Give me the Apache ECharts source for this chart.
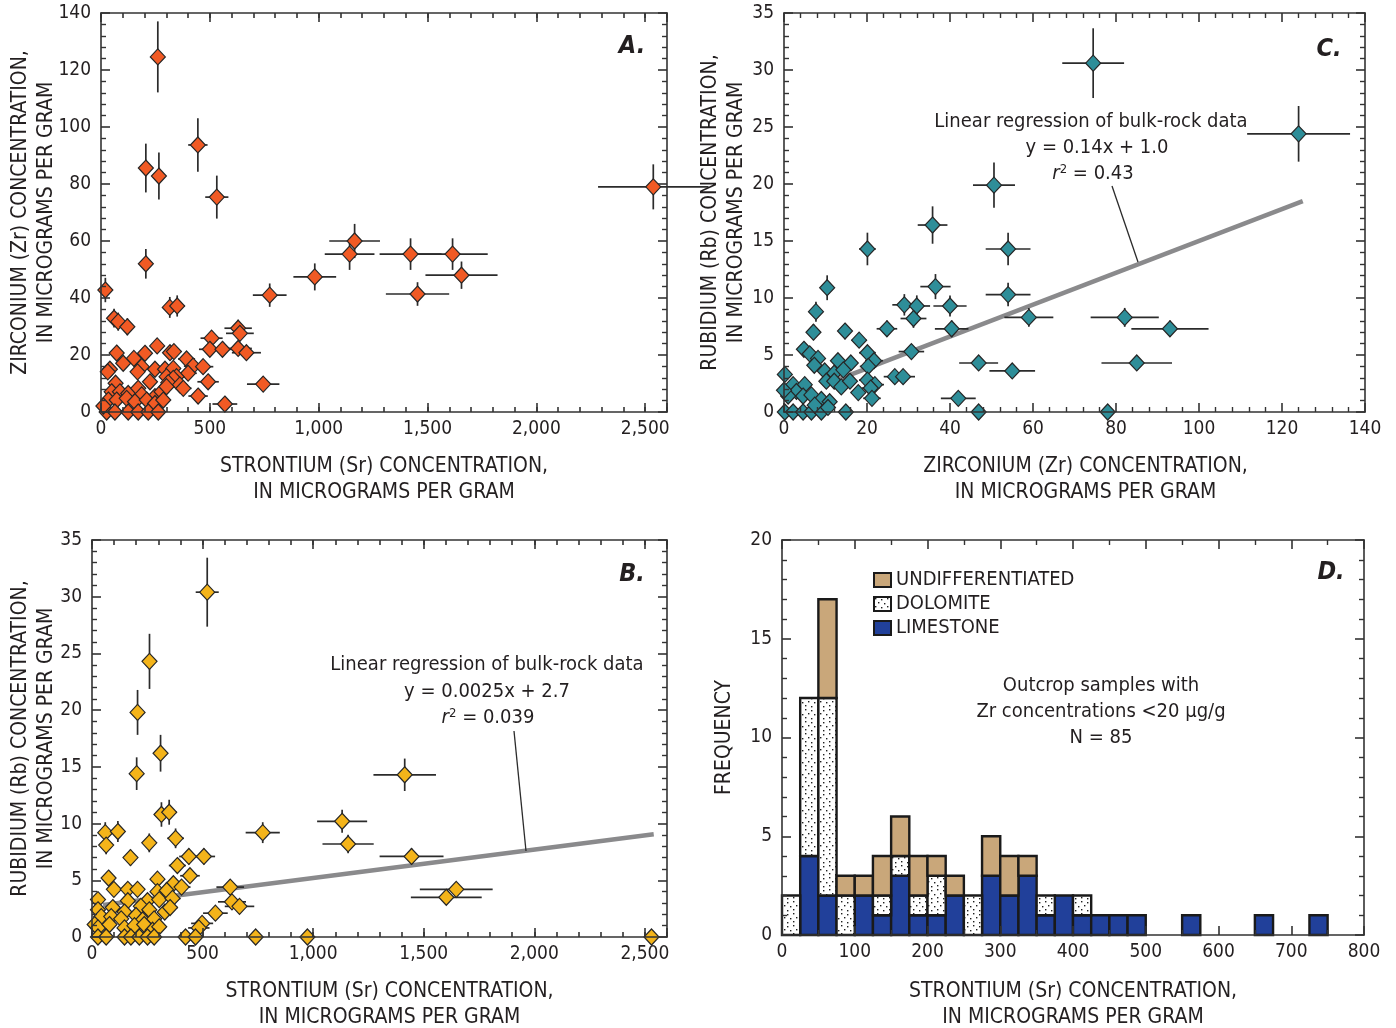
<!DOCTYPE html>
<html><head><meta charset="utf-8">
<script src="https://cdn.jsdelivr.net/npm/echarts@6/dist/echarts.min.js"></script>
<style>html,body{margin:0;padding:0;background:#fff}#c{width:1396px;height:1028px}</style>
</head><body><div id="c"></div>
<script>
// ---------------- DATA ----------------
// Panel A: Sr (x) vs Zr (y)
const aSr = [261,445,206,266,532,2537,206,1165,1142,982,1422,1615,1656,1454,775,20,316,350,60,79,121,630,638,508,258,72,202,317,335,500,558,630,668,151,102,187,168,248,294,332,393,423,469,41,31,400,301,347,332,225,309,362,378,492,745,67,49,87,125,171,187,248,278,301,446,569,34,72,118,156,210,248,286,26,64,125,171,217,263,11];
const aZr = [124.6,93.7,85.6,82.8,75.4,79,52,60,55.4,47.4,55.4,55.4,48,41.4,41,42.8,36.7,37.2,32.9,31.7,29.9,29.4,27.6,25.9,23.2,20.7,20.6,20.8,21.2,22,22,22.3,20.8,18.8,17.1,15.9,14.1,15,15,15.3,18.6,16.1,15.9,15,14.1,13.6,12.4,12.4,11.8,10.6,10.3,9.5,8.3,10.6,9.8,10.1,7.1,7.1,6.5,8.3,6.0,5.4,7.1,8.9,5.6,2.8,4.2,4.2,4.8,3.6,4.2,3.0,4.2,0,0,0,0,0,0,2.1];
// Panel B: Sr (x) vs Rb (y)
const bSr = [521,260,206,310,202,1414,314,349,1131,1158,772,1445,1647,1602,974,740,2530,60,117,64,259,378,174,438,506,386,443,75,296,368,625,99,162,206,296,338,405,27,162,251,304,364,633,667,27,94,147,221,259,329,353,558,42,87,132,199,229,281,498,483,12,27,79,147,192,236,274,304,27,64,147,176,214,251,281,423,468];
const bRb = [30.4,24.3,19.8,16.2,14.4,14.3,10.8,11.0,10.2,8.2,9.2,7.1,4.2,3.5,0,0,0,9.2,9.3,8.1,8.3,8.7,7.0,7.1,7.1,6.3,5.4,5.2,5.1,4.7,4.4,4.2,4.2,4.2,4.0,4.1,4.4,3.3,3.2,3.2,3.3,3.4,3.1,2.7,2.4,2.6,2.2,2.7,2.4,2.2,2.6,2.1,1.8,1.8,1.6,1.9,1.5,1.6,1.2,0.8,1.1,0.8,1.1,0.8,1.0,1.1,0.6,0.9,0,0,0,0,0,0,0,0,0];
// Panel C: Zr (x) vs Rb (y)
const cZr = [74.5,124,50.6,35.8,20.1,54,10.4,36.5,54,7.7,29,32,40,31.2,59,7.1,14.7,24.8,40.4,18.1,82.1,93,85,78,55,46.9,42,46.9,30.7,4.8,6.2,8.2,13,16.1,20.1,21.7,7.3,9.8,12.1,14.3,20.3,0.2,10.2,12.1,13.8,15.9,20.1,21.9,20.9,26.7,28.7,17.9,21.2,2.2,5.0,3.0,4.6,6.6,9.0,11.0,1.0,0,0.2,2.2,4.6,6.6,9.0,14.9,7.4,10.6];
const cRb = [30.6,24.4,19.9,16.4,14.3,14.3,10.9,11.0,10.3,8.8,9.4,9.3,9.3,8.2,8.3,7.0,7.1,7.3,7.3,6.3,8.3,7.3,4.3,0,3.6,4.3,1.2,0,5.3,5.5,5.1,4.7,4.5,4.3,5.2,4.5,4.1,3.6,3.4,3.7,4.0,3.3,2.7,2.7,2.2,2.7,2.8,2.4,2.1,3.1,3.1,1.7,1.2,2.4,2.4,1.8,1.4,1.5,1.1,0.9,1.4,1.9,0,0,0,0,0,0,0.6,0.4];
// Regression lines (endpoints)
const bRegX = [50, 2540];
const bRegY = [2.83, 9.05];
const cRegX = [12, 125];
const cRegY = [2.7, 18.5];
// Panel D: histogram of Sr, bins of 25
const binStarts = [0,25,50,75,100,125,150,175,200,225,250,275,300,325,350,375,400,425,450,475,500,525,550,575,600,625,650,675,700,725];
const BIN_WIDTH = 25;
const limestone = [0,4,2,0,2,1,3,1,1,2,0,3,2,3,1,2,1,1,1,1,0,0,1,0,0,0,1,0,0,1];
const dolomite  = [2,8,10,2,0,1,1,1,2,0,2,0,0,0,1,0,1,0,0,0,0,0,0,0,0,0,0,0,0,0];
const undiff    = [0,0,5,1,1,2,2,2,1,1,0,2,2,1,0,0,0,0,0,0,0,0,0,0,0,0,0,0,0,0];
const REL_ERR = 0.10; // analytical uncertainty drawn as +/-10% (not drawn for non-detects)

// ---------------- STYLE ----------------
const FONT = "'Liberation Sans Narrow','DejaVu Sans Condensed','Arial Narrow',sans-serif";
const AX = '#333';
const TXT = '#231f20';
const COL_A = '#f15a24', COL_B = '#f4b41a', COL_C = '#2e8e99';
const COL_TAN = '#c9a77a', COL_BLUE = '#21409a';

function comma(v){ return String(v).replace(/\B(?=(\d{3})+(?!\d))/g, ','); }

function axis(o){
  return {
    type:'value', gridIndex:o.grid, position:o.pos, min:o.min, max:o.max, interval:o.interval,
    axisLine:{show:o.line!==false, onZero:false, lineStyle:{color:AX,width:1.6}},
    axisTick:{show:true, inside:true, length:o.tickLen||9, lineStyle:{color:AX,width:1.6}},
    minorTick:{show:!!o.minor, splitNumber:o.minor||5, length:5, lineStyle:{color:AX,width:1.4}},
    splitLine:{show:false}, minorSplitLine:{show:false},
    axisLabel:{show:!!o.label, margin:o.margin||8, color:TXT, fontSize:19, fontFamily:FONT, formatter:o.fmt},
    name:o.name||'', nameLocation:'middle', nameGap:o.nameGap||30, nameMoveOverlap:false,
    nameTextStyle:{color:TXT, fontSize:21, lineHeight:26, fontFamily:FONT, padding:o.namePad||0},
    silent:true, z:10
  };
}
const xAxes=[], yAxes=[];
function addX(o){ xAxes.push(axis(o)); return xAxes.length-1; }
function addY(o){ yAxes.push(axis(o)); return yAxes.length-1; }

const grids = [
  {left:101, top:13, width:566, height:399},   // A
  {left:784, top:13, width:581, height:399},   // C
  {left:92,  top:540, width:575, height:397},  // B
  {left:782, top:540, width:582, height:395}   // D
].map(g=>Object.assign(g,{containLabel:false, outerBoundsMode:'none'}));

const srFmt = v => (v % 500 === 0 ? comma(v) : '');
const YNAME_RB = 'RUBIDIUM (Rb) CONCENTRATION,\nIN MICROGRAMS PER GRAM';
const XNAME_SR = 'STRONTIUM (Sr) CONCENTRATION,\nIN MICROGRAMS PER GRAM';

// A
const axA = addX({grid:0,pos:'bottom',min:0,max:2600,interval:500,label:true,fmt:srFmt,name:XNAME_SR,nameGap:42});
addX({grid:0,pos:'bottom',min:0,max:2600,interval:100,tickLen:5,line:false});
addX({grid:0,pos:'top',min:0,max:2600,interval:500});
addX({grid:0,pos:'top',min:0,max:2600,interval:100,tickLen:5,line:false});
const ayA = addY({grid:0,pos:'left',min:0,max:140,interval:20,minor:5,label:true,margin:10,name:'ZIRCONIUM (Zr) CONCENTRATION,\nIN MICROGRAMS PER GRAM',nameGap:41});
addY({grid:0,pos:'right',min:0,max:140,interval:20,minor:5});
// C
const axC = addX({grid:1,pos:'bottom',min:0,max:140,interval:20,minor:5,label:true,name:'ZIRCONIUM (Zr) CONCENTRATION,\nIN MICROGRAMS PER GRAM',nameGap:42,namePad:[0,0,0,22]});
addX({grid:1,pos:'top',min:0,max:140,interval:20,minor:5});
const ayC = addY({grid:1,pos:'left',min:0,max:35,interval:5,minor:5,label:true,margin:10,name:YNAME_RB,nameGap:34});
addY({grid:1,pos:'right',min:0,max:35,interval:5,minor:5});
// B
const axB = addX({grid:2,pos:'bottom',min:0,max:2600,interval:500,label:true,fmt:srFmt,name:XNAME_SR,nameGap:42,namePad:[0,0,0,20]});
addX({grid:2,pos:'bottom',min:0,max:2600,interval:100,tickLen:5,line:false});
addX({grid:2,pos:'top',min:0,max:2600,interval:500});
addX({grid:2,pos:'top',min:0,max:2600,interval:100,tickLen:5,line:false});
const ayB = addY({grid:2,pos:'left',min:0,max:35,interval:5,minor:5,label:true,margin:10,name:YNAME_RB,nameGap:32});
addY({grid:2,pos:'right',min:0,max:35,interval:5,minor:5});
// D
const axD = addX({grid:3,pos:'bottom',min:0,max:800,interval:100,minor:2,label:true,name:XNAME_SR,nameGap:44});
addX({grid:3,pos:'top',min:0,max:800,interval:100,minor:2});
const ayD = addY({grid:3,pos:'left',min:0,max:20,interval:5,minor:5,label:true,margin:10,name:'FREQUENCY',nameGap:44});
addY({grid:3,pos:'right',min:0,max:20,interval:5,minor:5});

function zip(xs, ys){ return xs.map((x,i)=>[x, ys[i]]); }

function errSeries(data, xi, yi){
  return {type:'custom', xAxisIndex:xi, yAxisIndex:yi, data, z:3, silent:true, encode:{x:0,y:1},
    renderItem(params, api){
      const x=api.value(0), y=api.value(1);
      if (x === 0 || y === 0) return {type:'group', children:[]};
      const ex=x*REL_ERR, ey=y*REL_ERR;
      const l=api.coord([x-ex,y]), r=api.coord([x+ex,y]), t=api.coord([x,y+ey]), b=api.coord([x,y-ey]);
      const st={stroke:'#2b2b2b', lineWidth:1.7};
      return {type:'group', children:[
        {type:'line', shape:{x1:l[0],y1:l[1],x2:r[0],y2:r[1]}, style:st},
        {type:'line', shape:{x1:t[0],y1:t[1],x2:b[0],y2:b[1]}, style:st}
      ]};
    }};
}
function ptSeries(data, xi, yi, color){
  return {type:'scatter', xAxisIndex:xi, yAxisIndex:yi, data, z:4, silent:true,
    symbol:'diamond', symbolSize:[15,16],
    itemStyle:{color, borderColor:'#262626', borderWidth:1.2, opacity:1}};
}
function regSeries(xs, ys, xi, yi){
  return {type:'line', xAxisIndex:xi, yAxisIndex:yi, data:zip(xs,ys), z:2, silent:true,
    symbol:'none', lineStyle:{color:'#8a8a8c', width:4.5}};
}

// Dotted pattern for dolomite
function dotPattern(){
  const c=document.createElement('canvas'); c.width=12; c.height=12;
  const g=c.getContext('2d'); g.fillStyle='#fff'; g.fillRect(0,0,12,12);
  g.fillStyle='#1e1e1e';
  [[1,1],[7,2],[4,5],[10,6],[1,9],[7,10]].forEach(p=>g.fillRect(p[0],p[1],1.4,1.4));
  return {image:c, repeat:'repeat'};
}
const DOTS = dotPattern();

function histSeries(name, counts, bases, fill){
  const data=[];
  binStarts.forEach((s,i)=>{ if(counts[i]>0) data.push([s, s+BIN_WIDTH, bases[i], bases[i]+counts[i]]); });
  return {type:'custom', name, xAxisIndex:axD, yAxisIndex:ayD, data, z:3, silent:true,
    encode:{x:[0,1], y:[2,3]},
    itemStyle:{color:fill, borderColor:'#1a1a1a', borderWidth:2},
    renderItem(params, api){
      const p0=api.coord([api.value(0), api.value(3)]);
      const p1=api.coord([api.value(1), api.value(2)]);
      return {type:'rect', shape:{x:p0[0], y:p0[1], width:p1[0]-p0[0], height:p1[1]-p0[1]},
        style:{fill, stroke:'#1a1a1a', lineWidth:2.4}};
    }};
}
const zeros = binStarts.map(()=>0);
const baseDol = limestone.slice();
const baseUnd = limestone.map((v,i)=>v+dolomite[i]);

const series = [
  errSeries(zip(aSr,aZr), axA, ayA), ptSeries(zip(aSr,aZr), axA, ayA, COL_A),
  regSeries(cRegX, cRegY, axC, ayC),
  errSeries(zip(cZr,cRb), axC, ayC), ptSeries(zip(cZr,cRb), axC, ayC, COL_C),
  regSeries(bRegX, bRegY, axB, ayB),
  errSeries(zip(bSr,bRb), axB, ayB), ptSeries(zip(bSr,bRb), axB, ayB, COL_B),
  histSeries('LIMESTONE', limestone, zeros, COL_BLUE),
  histSeries('DOLOMITE', dolomite, baseDol, DOTS),
  histSeries('UNDIFFERENTIATED', undiff, baseUnd, COL_TAN)
];

function label(txt, x, y){
  return {type:'text', x, y, z:20, style:{text:txt, x:0, y:0, align:'center', verticalAlign:'middle',
    fill:TXT, font:"italic bold 25px " + FONT}};
}
function note(txt, x, y){
  return {type:'text', x, y, z:20, style:{text:txt, align:'center', verticalAlign:'middle',
    fill:TXT, fontSize:20, fontFamily:FONT}};
}
function rnote(val, x, y){
  return {type:'text', x, y, z:20, style:{text:'{r|r}{s|2}{n| = '+val+'}', align:'center', verticalAlign:'middle',
    fill:TXT, fontSize:20, fontFamily:FONT,
    rich:{r:{fontStyle:'italic', fontSize:20, fontFamily:FONT, fill:TXT, lineHeight:22},
          s:{fontSize:13, fontFamily:FONT, fill:TXT, verticalAlign:'top', lineHeight:22},
          n:{fontSize:20, fontFamily:FONT, fill:TXT, lineHeight:22}}}};
}
function leader(x1,y1,x2,y2){
  return {type:'line', z:20, shape:{x1,y1,x2,y2}, style:{stroke:'#2b2b2b', lineWidth:1.3}};
}

const graphic = [
  label('A.', 632, 46), label('C.', 1329, 49), label('B.', 632, 574), label('D.', 1331, 572),
  note('Linear regression of bulk-rock data', 1091, 122), note('y = 0.14x + 1.0', 1097, 148), rnote('0.43', 1093, 174),
  leader(1112,186,1138,262),
  note('Linear regression of bulk-rock data', 487, 665), note('y = 0.0025x + 2.7', 487, 692), rnote('0.039', 488, 718),
  leader(514,731,526,851),
  note('Outcrop samples with', 1101, 686), note('Zr concentrations <20 \u00b5g/g', 1101, 712), note('N = 85', 1101, 738)
];

const chart = echarts.init(document.getElementById('c'), null, {renderer:'canvas'});
chart.setOption({
  animation:false, backgroundColor:'#fff',
  textStyle:{fontFamily:FONT},
  grid:grids, xAxis:xAxes, yAxis:yAxes, series,
  legend:{data:['UNDIFFERENTIATED','DOLOMITE','LIMESTONE'], orient:'vertical', left:868, top:565,
    itemWidth:17, itemHeight:14, itemGap:4, selectedMode:false, icon:'rect',
    textStyle:{fontSize:20, lineHeight:20, color:TXT, fontFamily:FONT}},
  graphic
});
</script></body></html>
